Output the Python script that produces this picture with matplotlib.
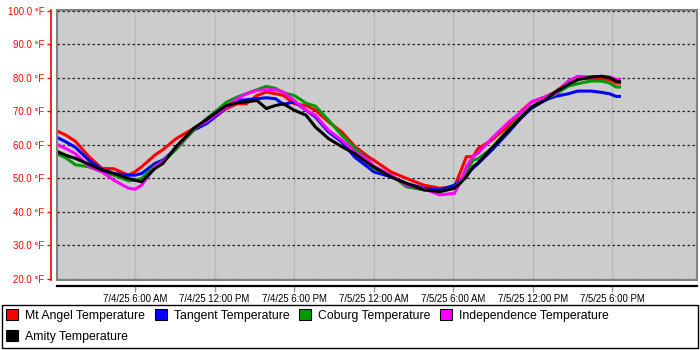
import matplotlib
matplotlib.use("Agg")
import matplotlib.pyplot as plt
import matplotlib.patches as patches
from matplotlib.patches import Patch

plt.rcParams['font.family'] = ['Liberation Sans', 'DejaVu Sans']

# hours since 7/4/25 12:00 AM
hours = [0.15, 0.8, 1.5, 2.5, 3.5, 4.4, 5.5, 6.0, 6.5, 7.5, 8.1, 9.1, 10.4, 11.4,
         12.2, 12.9, 13.7, 14.4, 15.2, 15.9, 16.6, 17.2, 18.0, 18.9, 19.6, 20.6,
         21.6, 22.6, 23.6, 24.0, 25.3, 26.5, 27.8, 29.0, 30.1, 30.5, 31.0, 31.5,
         31.9, 32.9, 34.2, 35.2, 35.9, 36.9, 37.7, 38.7, 39.4, 40.4, 41.2, 41.8,
         42.3, 42.55]

mt_angel = [64.0, 62.8, 61.0, 56.5, 52.9, 52.8, 50.9, 51.9, 53.4, 56.9, 58.5, 61.8,
            64.8, 67.3, 68.8, 70.8, 72.2, 72.2, 74.7, 75.7, 75.2, 74.7, 72.2, 71.7,
            70.3, 66.8, 63.8, 59.4, 56.4, 55.4, 51.9, 49.9, 47.9, 47.0, 47.4, 51.4,
            56.4, 56.4, 58.9, 61.3, 65.8, 70.3, 72.7, 74.2, 75.7, 78.8, 79.7, 79.7,
            79.7, 79.4, 78.4, 78.4]
tangent = [62.1, 60.8, 59.2, 55.4, 52.6, 51.4, 50.9, 50.9, 51.4, 54.4, 55.4, 58.9,
           64.3, 66.3, 68.8, 71.2, 73.2, 73.4, 73.7, 74.0, 73.7, 72.0, 72.8, 70.3,
           68.3, 63.8, 60.8, 56.2, 53.2, 51.9, 50.4, 48.4, 47.0, 46.5, 47.9, 49.2,
           51.0, 53.0, 54.4, 58.3, 63.8, 68.3, 70.8, 73.2, 74.4, 75.2, 76.0, 76.0,
           75.6, 75.2, 74.4, 74.4]
coburg = [57.2, 56.0, 54.0, 53.4, 51.9, 50.9, 49.2, 49.4, 49.9, 53.6, 55.0, 58.6,
          64.3, 67.8, 70.3, 72.7, 74.2, 75.2, 76.4, 77.4, 76.8, 75.5, 74.7, 72.4,
          71.5, 67.3, 62.8, 58.9, 55.4, 52.9, 50.9, 47.4, 46.5, 46.0, 47.0, 49.0,
          52.0, 55.4, 55.8, 58.9, 64.8, 68.8, 71.2, 73.7, 75.0, 77.5, 78.2, 79.0,
          79.0, 78.4, 77.2, 77.2]
independence = [60.0, 58.8, 57.3, 53.6, 51.9, 49.4, 47.0, 46.7, 47.9, 53.4, 55.0, 59.2,
                64.8, 67.0, 69.3, 71.2, 73.7, 75.2, 76.2, 76.4, 76.4, 75.7, 73.2, 70.3,
                68.8, 64.3, 61.3, 57.9, 55.4, 53.6, 50.9, 47.9, 46.8, 45.0, 45.5, 48.4,
                53.4, 56.4, 57.5, 61.8, 66.8, 70.0, 72.7, 74.2, 75.2, 79.0, 80.4, 80.2,
                80.4, 80.2, 79.5, 79.5]
amity = [57.9, 56.8, 55.9, 54.2, 52.4, 51.4, 49.9, 49.4, 48.9, 52.9, 54.4, 59.4,
         64.8, 67.5, 69.8, 71.7, 72.5, 72.8, 73.2, 70.8, 71.7, 72.2, 70.3, 68.8,
         65.3, 61.8, 59.4, 57.3, 54.4, 53.4, 50.4, 48.4, 46.5, 46.0, 47.0, 48.4,
         50.4, 53.4, 54.6, 58.9, 64.3, 68.3, 71.2, 73.2, 75.7, 78.0, 79.4, 80.2,
         80.4, 80.0, 79.0, 78.8]

series = [
    ("Mt Angel Temperature", mt_angel, "#ff0000"),
    ("Tangent Temperature", tangent, "#0000ff"),
    ("Coburg Temperature", coburg, "#009900"),
    ("Independence Temperature", independence, "#ff00ff"),
    ("Amity Temperature", amity, "#000000"),
]

tick_hours = [6, 12, 18, 24, 30, 36, 42]
tick_labels = ["7/4/25 6:00 AM", "7/4/25 12:00 PM", "7/4/25 6:00 PM",
               "7/5/25 12:00 AM", "7/5/25 6:00 AM", "7/5/25 12:00 PM",
               "7/5/25 6:00 PM"]
y_ticks = [20, 30, 40, 50, 60, 70, 80, 90, 100]

fig = plt.figure(figsize=(7, 3.5), dpi=100)
ax = fig.add_axes([57 / 700, 70 / 350, 640 / 700, 270 / 350])
ax.set_facecolor("#cccccc")

for name, vals, color in series:
    ax.plot(hours, vals, color=color, linewidth=2.2, solid_joinstyle="miter")

ax.set_xlim(0.11, 48.4)
ax.set_ylim(19.6, 100.2)

ax.set_xticks(tick_hours)
ax.set_xticklabels(tick_labels)
ax.set_yticks(y_ticks)
ax.set_yticklabels([f"{v:.1f} °F" for v in y_ticks])

for h in tick_hours:
    ax.axvline(h, color="#b8b8b8", linewidth=1, zorder=0.5)
for v in y_ticks:
    ax.axhline(v, color="#222222", linewidth=0.9, linestyle=(0, (2, 2)), zorder=0.6)

# gray frame round the plot area
ax.add_patch(patches.Rectangle((0, 0), 1, 1, transform=ax.transAxes, fill=False,
                               edgecolor="#808080", linewidth=1.5, clip_on=False,
                               zorder=5))
ax.spines["top"].set_visible(False)
ax.spines["right"].set_visible(False)
ax.spines["left"].set_position(("outward", 4))
ax.spines["left"].set_color("#ff0000")
ax.spines["left"].set_linewidth(1.2)
ax.spines["bottom"].set_position(("outward", 4))
ax.spines["bottom"].set_color("#000000")
ax.spines["bottom"].set_linewidth(1.6)
ax.tick_params(axis="y", colors="#ff0000", length=3, width=1, pad=2, labelsize=6.9)
ax.tick_params(axis="x", color="#999999", length=4, width=1, pad=2, labelsize=6.9)

# legend box
fig.patches.append(patches.Rectangle((2 / 700, 2 / 350), 696 / 700, 43 / 350,
                                     transform=fig.transFigure, fill=False,
                                     edgecolor="black", linewidth=1))
handles = {name: Patch(facecolor=color, edgecolor="black", linewidth=0.8)
           for name, vals, color in series}
order = ["Mt Angel Temperature", "Amity Temperature", "Tangent Temperature",
         "Coburg Temperature", "Independence Temperature"]
fig.legend([handles[n] for n in order], order, loc="upper left",
           bbox_to_anchor=(6 / 700, 1 - 309 / 350), ncol=4, frameon=False,
           fontsize=8.8, handlelength=1.0, handleheight=1.0, handletextpad=0.55,
           columnspacing=0.8, labelspacing=0.7, borderpad=0, borderaxespad=0)

fig.savefig("out.png", dpi=100)
